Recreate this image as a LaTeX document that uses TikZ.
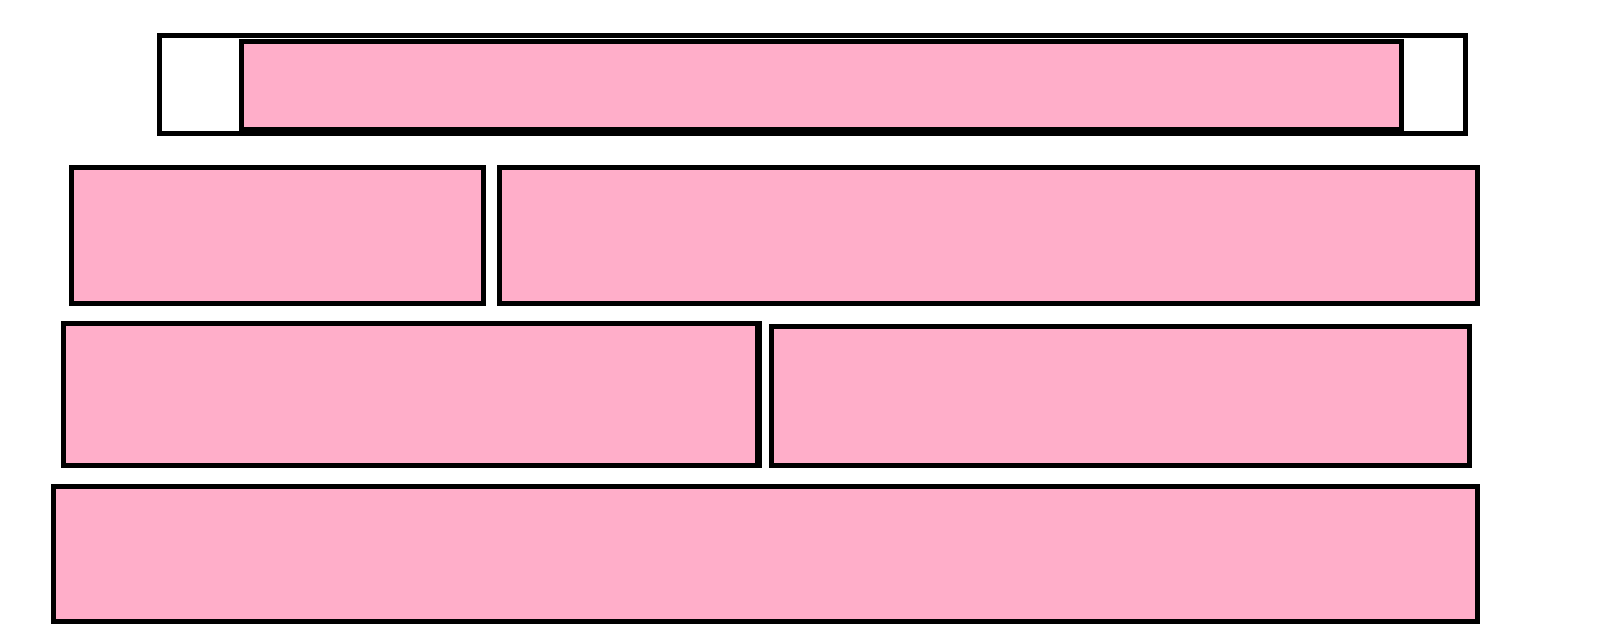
\documentclass[tikz,border=0pt]{standalone}
\definecolor{boxpink}{RGB}{255,174,201}
\tikzset{
  panel/.style={draw=black, line width=5pt, inner sep=0pt, outer sep=0pt, rectangle},
  pinkpanel/.style={panel, fill=boxpink},
}
\begin{document}
\begin{tikzpicture}[x=1pt, y=-1pt]
  \fill[white] (0,0) rectangle (1600,630);
  \useasboundingbox (0,0) rectangle (1600,630);
  % top frame and inner pink box
  \node[panel, fill=white, minimum width=1305.5pt, minimum height=97.5pt] (frame) at (812.25,84.25) {};
  \node[pinkpanel, minimum width=1160pt, minimum height=87.5pt] (top) at (821.5,85.25) {};
  % second row
  \node[pinkpanel, minimum width=412pt, minimum height=135.5pt] (r2a) at (277.5,235.25) {};
  \node[pinkpanel, minimum width=978pt, minimum height=135.5pt] (r2b) at (988,235.25) {};
  % third row
  \node[pinkpanel, minimum width=694pt, minimum height=141.5pt] (r3a) at (410.5,394.25) {};
  \draw[line width=2.5pt] ([xshift=3.5pt,yshift=2.5pt]r3a.north east) -- ([xshift=3.5pt,yshift=-2.5pt]r3a.south east);
  \node[pinkpanel, minimum width=697.5pt, minimum height=139pt] (r3b) at (1120.25,395.5) {};
  % bottom row
  \node[pinkpanel, minimum width=1424pt, minimum height=135pt] (r4) at (765.5,553.5) {};
\end{tikzpicture}
\end{document}
